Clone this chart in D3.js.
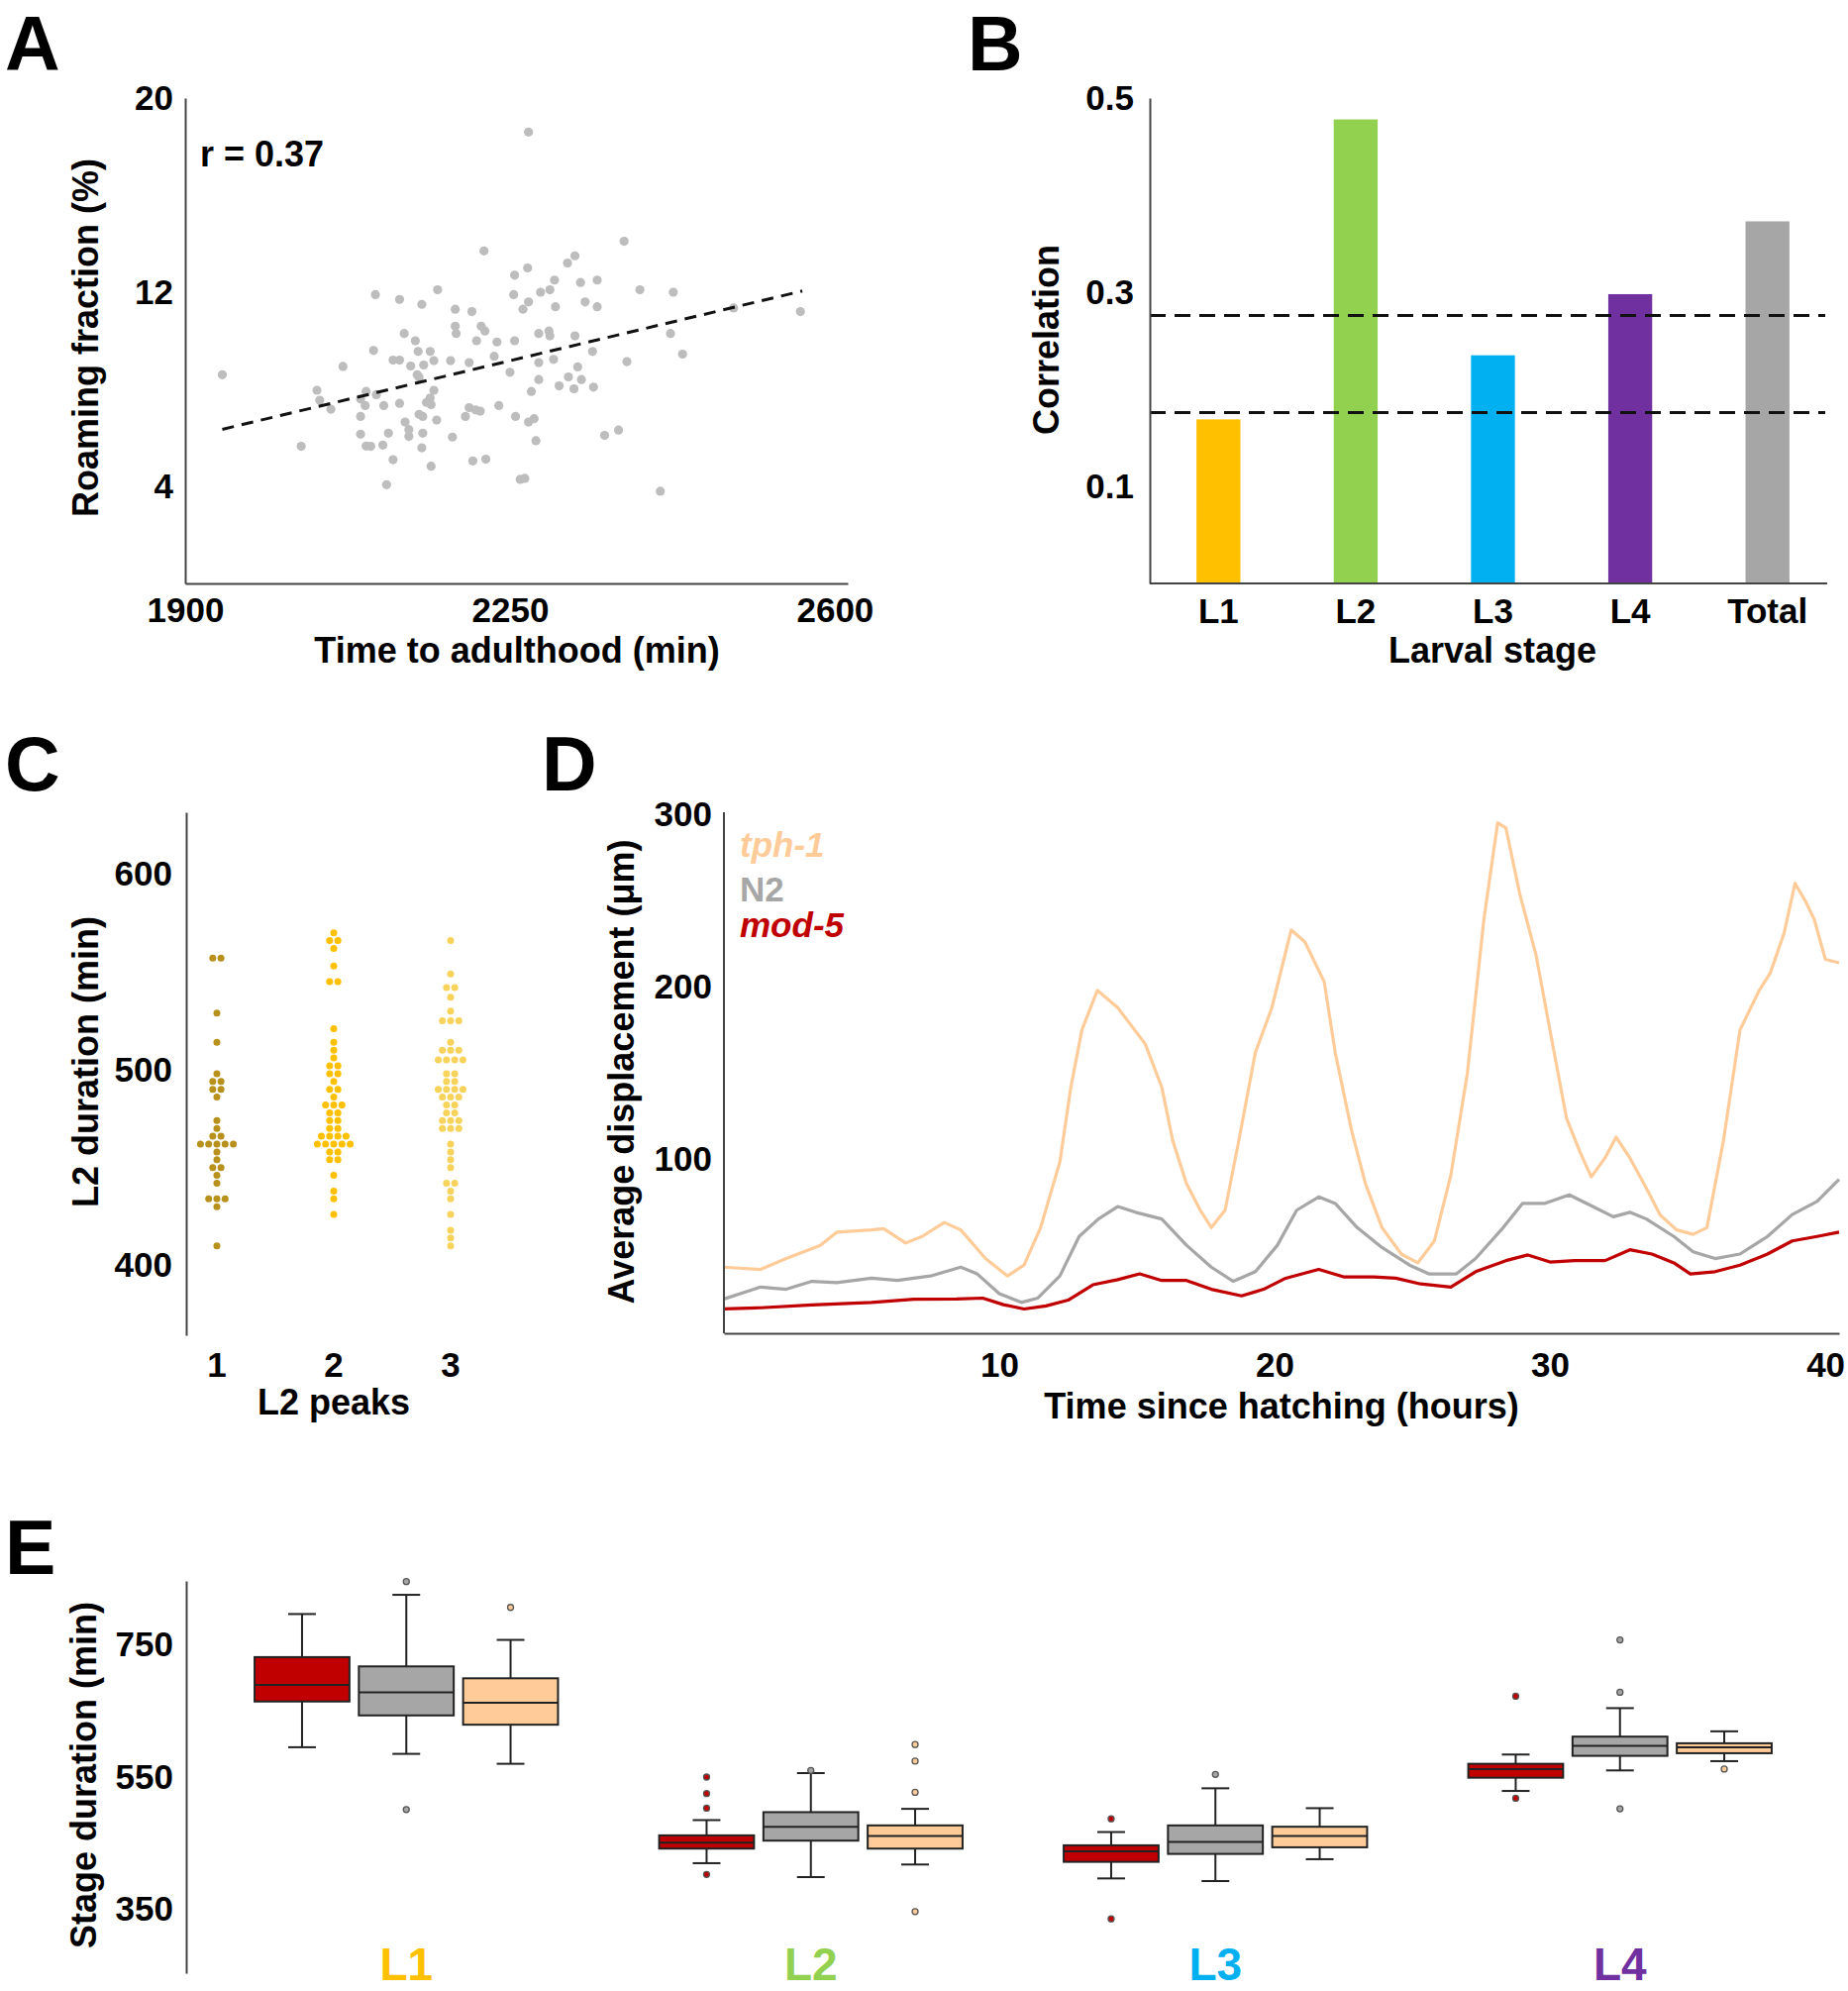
<!DOCTYPE html>
<html><head><meta charset="utf-8">
<script src="https://cdn.jsdelivr.net/npm/d3@7"></script>
<style>
html,body{margin:0;padding:0;background:#fff;}
svg{display:block;font-family:"Liberation Sans",Arial,Helvetica,sans-serif;font-weight:bold;}
</style></head><body>
<svg id="fig" width="1866" height="2010"></svg>
<script>
// ---------------- DATA ----------------
// Panel A: time to adulthood (min) vs roaming fraction (%)
const roamPoints = [
[1940,8.6],[2270,18.6],[2373,14.1],[2222,13.7],[2320,13.5],[2312,13.2],[2269,13.0],[2255,12.7],[2298,12.5],[2326,12.4],
[2344,12.5],[2390,12.1],[2426,12.0],[2105,11.9],[2172,12.1],[2254,11.9],[2283,12.0],[2293,12.1],[2131,11.7],[2155,11.5],
[2270,11.6],[2299,11.4],[2331,11.6],[2344,11.4],[2264,11.3],[2191,11.3],[2209,11.2],[2491,11.35],[2563,11.2],[2191,10.6],
[2219,10.6],[2192,10.3],[2223,10.4],[2136,10.3],[2292,10.4],[2281,10.3],[2293,10.2],[2320,10.2],[2423,10.3],[2148,10.0],
[2214,10.0],[2236,9.95],[2255,10.0],[2103,9.6],[2151,9.56],[2164,9.56],[2339,9.56],[2436,9.45],[2233,9.36],[2124,9.2],
[2131,9.2],[2168,9.18],[2186,9.18],[2206,9.1],[2281,9.1],[2297,9.23],[2376,9.14],[2070,8.94],[2143,8.96],[2157,9.0],
[2323,8.92],[2150,8.6],[2152,8.5],[2250,8.7],[2281,8.4],[2327,8.4],[2168,7.96],[2303,8.14],[2319,8.02],[2340,8.09],
[2273,7.91],[2042,7.96],[2095,7.91],[2106,7.78],[2164,7.64],[2045,7.55],[2089,7.6],[2160,7.46],[2057,7.18],[2094,7.33],
[2114,7.33],[2131,7.42],[2165,7.37],[2206,7.24],[2213,7.15],[2218,7.1],[2238,7.33],[2089,6.88],[2152,6.97],[2156,6.88],
[2171,6.73],[2202,6.88],[2256,6.88],[2276,6.79],[2270,6.65],[2137,6.65],[2141,6.34],[2141,6.06],[2089,6.15],[2119,6.19],
[2156,6.19],[2188,6.03],[2095,5.66],[2100,5.65],[2113,5.7],[2025,5.65],[2155,5.59],[2278,5.88],[2352,6.1],[2367,6.32],
[2124,5.1],[2165,4.83],[2210,5.05],[2224,5.12],[2117,4.07],[2261,4.29],[2266,4.33],[2412,3.8],[2313,8.51]
];
const fitLine = [[1940,6.35],[2565,12.05]];
const rLabel = "r = 0.37";
const aXTicks = [1900,2250,2600];
const aYTicks = [4,12,20];

// Panel B: correlation per larval stage
const stageNames = ["L1","L2","L3","L4","Total"];
const stageCorr = [0.169,0.478,0.235,0.298,0.373];
const stageColors = ["#FFC000","#92D050","#00B0F0","#7030A0","#A6A6A6"];
const sigLines = [0.276,0.176];
const bYTicks = [0.1,0.3,0.5];

// Panel C: L2 duration (min) by number of L2 peaks
const peakGroups = ["1","2","3"];
const peakColors = ["#B8901C","#FFC000","#F8D35C"];
const peak1 = [557,557,529,514,498,494,494,490,490,486,474,470,466,466,462,462,462,462,462,458,454,450,450,446,442,434,434,434,430,410];
const peak2 = [570,566,566,562,553,545,545,521,514,510,506,502,502,498,498,494,490,490,486,482,482,482,478,478,474,474,470,470,
  466,466,466,466,462,462,462,462,462,458,458,454,454,446,438,434,426];
const peak3 = [566,549,542,542,537,530,525,525,525,514,510,510,510,505,505,505,505,498,498,494,494,490,490,490,490,486,486,486,
  482,482,478,478,474,474,474,470,470,470,462,458,454,450,442,442,438,434,426,418,414,410];
const cYTicks = [400,500,600];

// Panel D: average displacement (um) vs time since hatching (hours)
const tph1 = [[0,37.7],[1.33,36.4],[2.26,42.7],[3.5,50.4],[4.1,58],[5.36,59.3],[5.8,60],[6.6,51.7],[7.2,55.5],[8.0,63.6],[8.6,59.3],
 [9.5,42.7],[10.3,32.6],[10.9,38.9],[11.5,60.6],[12.2,98.7],[12.6,142],[13.0,175],[13.56,198],[14.3,188],[15.3,167],[15.9,142],
 [16.3,111],[16.8,86],[17.3,70.7],[17.7,60.6],[18.2,70.7],[18.7,111],[19.3,162],[19.9,188],[20.6,233],[21.1,226],[21.8,203],
 [22.2,162],[22.8,116.5],[23.3,86],[23.9,60.6],[24.6,45.3],[25.2,40.2],[25.8,52.9],[26.4,91],[27.0,150],[27.6,239],[28.1,295],
 [28.4,292],[28.9,254],[29.5,218],[30.0,175],[30.6,124],[31.1,104],[31.5,90],[32.0,101],[32.4,113],[32.9,101],[33.5,83.5],
 [34.0,68],[34.6,59.3],[35.2,56.7],[35.7,60.6],[36.3,111],[36.9,175],[37.6,198],[38.0,208],[38.5,231],[38.9,260],[39.3,249],
 [39.6,239],[40.0,216],[40.5,214]];
const n2 = [[0,19.3],[1.33,26.2],[2.26,24.9],[3.2,29.5],[4.1,28.8],[5.36,31.3],[6.3,30],[7.5,32.6],[8.6,37.7],[9.2,33.8],[10.0,22.4],
 [10.8,17.3],[11.4,19.8],[12.2,32.6],[12.9,55.5],[13.6,65.6],[14.3,72.8],[14.95,69.5],[15.9,65.6],[16.8,50.4],[17.7,37.7],
 [18.5,29.5],[19.3,35.1],[20.1,50.4],[20.8,70.7],[21.6,78.4],[22.2,74.6],[23.0,60.6],[23.9,49.1],[24.9,38.9],[25.6,33.8],
 [26.6,33.8],[27.3,42.7],[28.3,60.6],[29.0,74.6],[29.8,74.6],[30.7,79.6],[31.5,73.3],[32.3,66.9],[32.9,69.5],[33.5,65.6],
 [34.5,55.5],[35.2,46.6],[36.0,42.7],[36.9,45.3],[37.9,55.5],[38.8,68.2],[39.7,75.8],[40.5,88.5]];
const mod5 = [[0,13.5],[1.33,14.2],[3.2,15.8],[5.36,17.3],[6.9,19.1],[8.45,19.3],[9.4,19.8],[10.15,16],[10.9,13.5],[11.7,15.3],
 [12.5,18.6],[13.4,27.5],[14.3,30.5],[15.1,33.8],[15.9,30],[16.8,30],[17.7,24.9],[18.8,21.1],[19.6,24.9],[20.4,31.3],[21.6,36.4],
 [22.5,32.1],[23.6,32.1],[24.4,31.3],[25.3,28],[26.4,26.2],[27.3,35.1],[28.4,41.5],[29.2,44.8],[30.0,40.7],[30.9,41.5],[32.0,41.5],
 [32.9,47.8],[33.7,45.3],[34.5,40.2],[35.1,33.8],[36.0,35.1],[36.9,38.9],[37.9,45.3],[38.8,52.9],[39.7,55.5],[40.5,58]];
const dXTicks = [10,20,30,40];
const dYTicks = [100,200,300];

// Panel E: stage duration boxplots [whiskerLow, q1, median, q3, whiskerHigh, outliers]
const genotypes = ["mod-5","N2","tph-1"];
const genoColors = ["#C00000","#A6A6A6","#FFCC99"];
const boxStages = ["L1","L2","L3","L4"];
const boxL1 = [[595,664,689,731,796,[]],[585,643,678,717,825,[845,501]],[570,629,662,699,757,[806]]];
const boxL2 = [[420,442,451,462,485,[550,525,503,403]],[399,454,475,497,556,[560]],[418,442,461,477,502,[599,574,527,347]]];
const boxL3 = [[397,422,438,447,467,[487,336]],[393,434,452,477,533,[554]],[426,444,461,475,503,[]]];
const boxL4 = [[529,549,562,570,584,[672,518]],[560,582,597,611,654,[757,678,502]],[574,586,595,601,619,[562]]];
const eYTicks = [350,550,750];

// ---------------- DRAWING ----------------
const svg = d3.select("#fig");
const FONT = '"Liberation Sans",Arial,Helvetica,sans-serif';
const AX = "#444";

function styleAxis(g, keepDomain) {
  g.attr("font-family", FONT).attr("font-size", 35).attr("font-weight", "bold");
  g.selectAll(".tick line").remove();
  g.selectAll(".tick text").attr("fill", "#000");
  if (keepDomain) g.select(".domain").attr("stroke", AX).attr("stroke-width", 2);
  else g.select(".domain").remove();
}
function panelLetter(t, x, y) {
  svg.append("text").attr("x", x).attr("y", y).attr("font-size", 77).attr("font-weight", "bold").text(t);
}
function yTitle(t, x, y) {
  svg.append("text").attr("transform", `translate(${x},${y}) rotate(-90)`).attr("text-anchor", "middle")
    .attr("font-size", 36).text(t);
}
function xTitle(t, x, y) {
  svg.append("text").attr("x", x).attr("y", y).attr("text-anchor", "middle").attr("font-size", 36).text(t);
}

// ===== Panel A =====
panelLetter("A", 5, 71);
const ax = d3.scaleLinear().domain([1900, 2614]).range([187, 856]);
const ay = d3.scaleLinear().domain([0, 20]).range([589, 99]);
svg.append("g").attr("transform", `translate(0,${ay(0)})`)
  .call(d3.axisBottom(ax).tickValues(aXTicks).tickSize(0).tickSizeOuter(0).tickPadding(14).tickFormat(d3.format("d")))
  .call(g => styleAxis(g, true));
svg.append("g").attr("transform", `translate(${ax(1900)},0)`)
  .call(d3.axisLeft(ay).tickValues(aYTicks).tickSize(0).tickSizeOuter(0).tickPadding(12))
  .call(g => styleAxis(g, true));
svg.append("g").selectAll("circle").data(roamPoints).join("circle")
  .attr("cx", d => ax(d[0])).attr("cy", d => ay(d[1])).attr("r", 4.6).attr("fill", "#BDBDBD");
svg.append("path").datum(fitLine)
  .attr("d", d3.line().x(d => ax(d[0])).y(d => ay(d[1])))
  .attr("stroke", "#111").attr("stroke-width", 3).attr("stroke-dasharray", "12,8").attr("fill", "none");
svg.append("text").attr("x", 202).attr("y", 168).attr("font-size", 36).text(rLabel);
xTitle("Time to adulthood (min)", 522, 669);
yTitle("Roaming fraction (%)", 99, 341);

// ===== Panel B =====
panelLetter("B", 977, 71);
const bx = d3.scaleBand().domain(stageNames).range([1161, 1854]).paddingInner(0.68).paddingOuter(0.34);
const by = d3.scaleLinear().domain([0, 0.5]).range([589, 99]);
svg.append("g").selectAll("rect").data(stageNames).join("rect")
  .attr("x", d => bx(d)).attr("width", bx.bandwidth())
  .attr("y", (d, i) => by(stageCorr[i])).attr("height", (d, i) => by(0) - by(stageCorr[i]))
  .attr("fill", (d, i) => stageColors[i]);
svg.append("g").selectAll("line").data(sigLines).join("line")
  .attr("x1", 1161).attr("x2", 1843).attr("y1", d => by(d)).attr("y2", d => by(d))
  .attr("stroke", "#111").attr("stroke-width", 3.2).attr("stroke-dasharray", "16,9");
svg.append("g").attr("transform", `translate(0,${by(0)})`)
  .call(d3.axisBottom(bx).tickSize(0).tickSizeOuter(0).tickPadding(15))
  .call(g => styleAxis(g, true))
  .call(g => g.select(".domain").attr("d", `M1161,0H1845`));
svg.append("g").attr("transform", `translate(1161,0)`)
  .call(d3.axisLeft(by).tickValues(bYTicks).tickSize(0).tickSizeOuter(0).tickPadding(16).tickFormat(d3.format(".1f")))
  .call(g => styleAxis(g, true));
xTitle("Larval stage", 1507, 669);
yTitle("Correlation", 1069, 343);

// ===== Panel C =====
panelLetter("C", 5, 798);
const cx = d3.scaleBand().domain(peakGroups).range([160, 514]);
const cy = d3.scaleLinear().domain([364.3, 631.6]).range([1348, 820]);
svg.append("g").attr("transform", `translate(188,0)`)
  .call(d3.axisLeft(cy).tickValues(cYTicks).tickSize(0).tickSizeOuter(0).tickPadding(14))
  .call(g => styleAxis(g, true));
svg.append("g").attr("transform", `translate(0,1348)`)
  .call(d3.axisBottom(cx).tickSize(0).tickPadding(17))
  .call(g => styleAxis(g, false));
[peak1, peak2, peak3].forEach((vals, gi) => {
  const counts = d3.rollup(vals, v => v.length, d => d);
  const pts = [];
  counts.forEach((n, v) => { for (let k = 0; k < n; k++) pts.push({v, off: (k - (n - 1) / 2) * 8.3}); });
  svg.append("g").selectAll("circle").data(pts).join("circle")
    .attr("cx", d => cx(peakGroups[gi]) + cx.bandwidth() / 2 + d.off)
    .attr("cy", d => cy(d.v)).attr("r", 3.5).attr("fill", peakColors[gi]);
});
xTitle("L2 peaks", 337, 1428);
yTitle("L2 duration (min)", 99, 1072);

// ===== Panel D =====
panelLetter("D", 547, 798);
const dx = d3.scaleLinear().domain([0, 40.5]).range([731, 1857]);
const dy = d3.scaleLinear().domain([0, 300]).range([1345, 822]);
const dline = d3.line().x(d => dx(d[0])).y(d => dy(d[1]));
[[tph1, "#FFCC99"], [n2, "#A6A6A6"], [mod5, "#C00000"]].forEach(([s, c]) => {
  svg.append("path").datum(s).attr("d", dline).attr("fill", "none").attr("stroke", c)
    .attr("stroke-width", 3.2).attr("stroke-linejoin", "round");
});
svg.append("g").attr("transform", `translate(0,1346)`)
  .call(d3.axisBottom(dx).tickValues(dXTicks).tickSize(0).tickSizeOuter(0).tickPadding(19))
  .call(g => styleAxis(g, true));
svg.append("g").attr("transform", `translate(731,0)`)
  .call(d3.axisLeft(dy).tickValues(dYTicks).tickSize(0).tickSizeOuter(0).tickPadding(12))
  .call(g => styleAxis(g, true))
  .call(g => g.select(".domain").attr("d", `M0,820V1346`));
const legend = [["tph-1", "#FFCC99", "italic", 865], ["N2", "#A6A6A6", "normal", 910], ["mod-5", "#C00000", "italic", 946]];
svg.append("g").selectAll("text").data(legend).join("text")
  .attr("x", 747).attr("y", d => d[3]).attr("font-size", 35).attr("font-style", d => d[2])
  .attr("fill", d => d[1]).text(d => d[0]);
xTitle("Time since hatching (hours)", 1294, 1432);
yTitle("Average displacement (\u03bcm)", 640, 1082);

// ===== Panel E =====
panelLetter("E", 5, 1589);
const ex = d3.scaleBand().domain(boxStages).range([206, 1840]);
const ex2 = d3.scaleBand().domain(genotypes).range([0, ex.bandwidth() * 0.75]).paddingInner(0.09);
const eOff = ex.bandwidth() / 2 - ex2.step() * 1.5 + ex2.step() * ex2.paddingInner() / 2;
const ey = d3.scaleLinear().domain([254, 846]).range([1992, 1596]);
svg.append("g").attr("transform", `translate(188,0)`)
  .call(d3.axisLeft(ey).tickValues(eYTicks).tickSize(0).tickSizeOuter(0).tickPadding(13))
  .call(g => styleAxis(g, true));
const allBoxes = [boxL1, boxL2, boxL3, boxL4];
const bw = ex2.bandwidth(), capW = 28;
allBoxes.forEach((grp, si) => {
  grp.forEach((b, gi) => {
    const x0 = ex(boxStages[si]) + eOff + ex2(genotypes[gi]);
    const xc = x0 + bw / 2;
    const g = svg.append("g").attr("stroke", "#222").attr("stroke-width", 2);
    g.append("line").attr("x1", xc).attr("x2", xc).attr("y1", ey(b[4])).attr("y2", ey(b[3]));
    g.append("line").attr("x1", xc).attr("x2", xc).attr("y1", ey(b[1])).attr("y2", ey(b[0]));
    g.append("line").attr("x1", xc - capW / 2).attr("x2", xc + capW / 2).attr("y1", ey(b[4])).attr("y2", ey(b[4]));
    g.append("line").attr("x1", xc - capW / 2).attr("x2", xc + capW / 2).attr("y1", ey(b[0])).attr("y2", ey(b[0]));
    g.append("rect").attr("x", x0).attr("width", bw).attr("y", ey(b[3])).attr("height", ey(b[1]) - ey(b[3]))
      .attr("fill", genoColors[gi]);
    g.append("line").attr("x1", x0).attr("x2", x0 + bw).attr("y1", ey(b[2])).attr("y2", ey(b[2]));
    g.selectAll("circle").data(b[5]).join("circle").attr("cx", xc).attr("cy", d => ey(d)).attr("r", 3)
      .attr("fill", genoColors[gi]).attr("stroke", "#555").attr("stroke-width", 1.3);
  });
});
svg.append("g").selectAll("text").data(boxStages).join("text")
  .attr("x", d => ex(d) + ex.bandwidth() / 2).attr("y", 1999).attr("text-anchor", "middle")
  .attr("font-size", 46).attr("fill", (d, i) => stageColors[i]).text(d => d);
yTitle("Stage duration (min)", 97, 1792);
</script>
</body></html>
